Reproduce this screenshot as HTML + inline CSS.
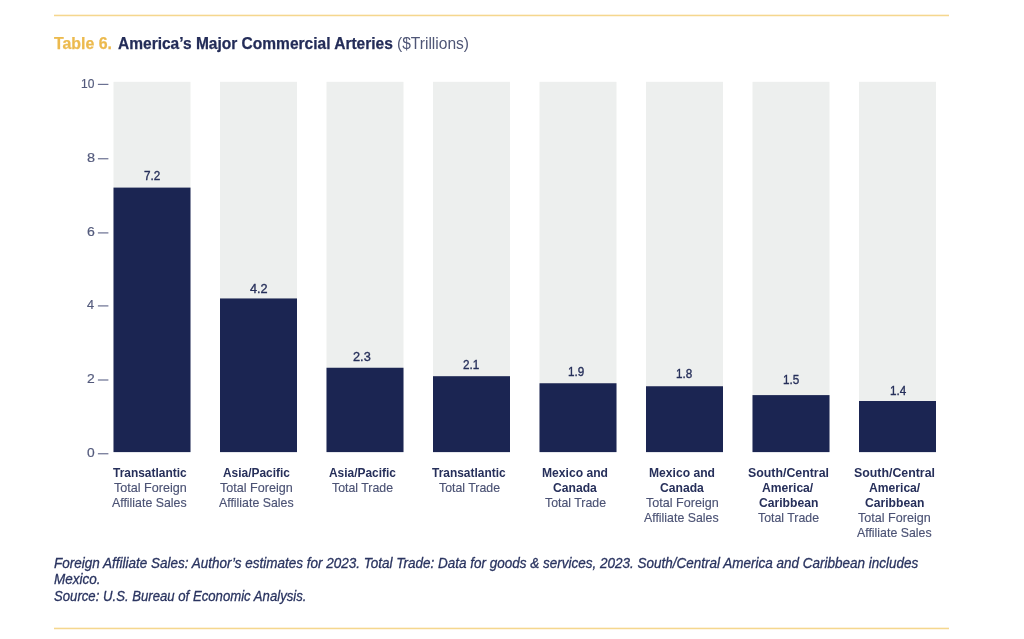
<!DOCTYPE html>
<html lang="en">
<head>
<meta charset="utf-8">
<title>Table 6. America’s Major Commercial Arteries</title>
<style>
html,body{margin:0;padding:0;background:#fff;}
body{width:1024px;height:639px;position:relative;overflow:hidden;font-family:"Liberation Sans", sans-serif;}
.a{position:absolute;white-space:nowrap;line-height:20px;height:20px;transform-origin:0 0;display:block;margin:0;padding:0;}
.rule{position:absolute;left:54px;width:895px;height:1px;background:#F5D78E;box-shadow:0 -1px 0 #FCF2DC,0 1px 0 #FDF5E4;}

.t1{font-size:16px;font-weight:bold;font-style:normal;color:#ECBA4E;-webkit-text-stroke:0.25px #ECBA4E;}
.t2{font-size:16px;font-weight:bold;font-style:normal;color:#232C58;-webkit-text-stroke:0.25px #232C58;}
.t3{font-size:16px;font-weight:normal;font-style:normal;color:#4F5676;}
.y{font-size:13.5px;font-weight:normal;font-style:normal;color:#535A7C;-webkit-text-stroke:0.2px #535A7C;}
.v{font-size:13px;font-weight:normal;font-style:normal;color:#262F5A;-webkit-text-stroke:0.35px #262F5A;}
.xb{font-size:13px;font-weight:bold;font-style:normal;color:#262F5A;}
.xr{font-size:13.5px;font-weight:normal;font-style:normal;color:#4B5274;-webkit-text-stroke:0.15px #4B5274;}
.f{font-size:14px;font-weight:normal;font-style:italic;color:#2A3460;-webkit-text-stroke:0.3px #2A3460;}
</style>
</head>
<body>
<div class="rule" style="top:15px"></div>
<div class="rule" style="top:628px"></div>
<svg class="chart" width="1024" height="639" viewBox="0 0 1024 639" style="position:absolute;left:0;top:0" aria-hidden="true">
<rect x="113.50" y="81.8" width="77" height="370.30" fill="#EDEFEE"/>
<rect x="113.50" y="187.60" width="77" height="264.50" fill="#1B2552"/>
<rect x="220.00" y="81.8" width="77" height="370.30" fill="#EDEFEE"/>
<rect x="220.00" y="298.45" width="77" height="153.65" fill="#1B2552"/>
<rect x="326.50" y="81.8" width="77" height="370.30" fill="#EDEFEE"/>
<rect x="326.50" y="367.75" width="77" height="84.35" fill="#1B2552"/>
<rect x="433.00" y="81.8" width="77" height="370.30" fill="#EDEFEE"/>
<rect x="433.00" y="376.20" width="77" height="75.90" fill="#1B2552"/>
<rect x="539.50" y="81.8" width="77" height="370.30" fill="#EDEFEE"/>
<rect x="539.50" y="383.25" width="77" height="68.85" fill="#1B2552"/>
<rect x="646.00" y="81.8" width="77" height="370.30" fill="#EDEFEE"/>
<rect x="646.00" y="386.25" width="77" height="65.85" fill="#1B2552"/>
<rect x="752.50" y="81.8" width="77" height="370.30" fill="#EDEFEE"/>
<rect x="752.50" y="395.10" width="77" height="57.00" fill="#1B2552"/>
<rect x="859.00" y="81.8" width="77" height="370.30" fill="#EDEFEE"/>
<rect x="859.00" y="401.00" width="77" height="51.10" fill="#1B2552"/>
</svg>
<div class="a t1" style="left:54.40px;top:34.00px;transform:scaleX(0.9923)">Table 6.</div>
<div class="a t2" style="left:117.50px;top:34.00px;transform:scaleX(0.9698)">America’s Major Commercial Arteries</div>
<div class="a t3" style="left:397.03px;top:34.00px;transform:scaleX(0.9725)">($Trillions)</div>
<div class="a v" style="left:144.00px;top:166.00px;transform:scaleX(0.9000)">7.2</div>
<div class="a v" style="left:250.00px;top:279.00px;transform:scaleX(0.9752)">4.2</div>
<div class="a v" style="left:353.00px;top:347.00px;transform:scaleX(0.9808)">2.3</div>
<div class="a v" style="left:462.85px;top:355.00px;transform:scaleX(0.9000)">2.1</div>
<div class="a v" style="left:568.47px;top:362.00px;transform:scaleX(0.9000)">1.9</div>
<div class="a v" style="left:676.10px;top:364.00px;transform:scaleX(0.9000)">1.8</div>
<div class="a v" style="left:782.97px;top:370.00px;transform:scaleX(0.9000)">1.5</div>
<div class="a v" style="left:890.22px;top:381.00px;transform:scaleX(0.9000)">1.4</div>
<div class="a xb" style="left:113.10px;top:463.00px;transform:scaleX(0.9179)">Transatlantic</div>
<div class="a xr" style="left:113.65px;top:478.00px;transform:scaleX(0.9325)">Total Foreign</div>
<div class="a xr" style="left:112.40px;top:493.00px;transform:scaleX(0.9145)">Affiliate Sales</div>
<div class="a xb" style="left:222.85px;top:463.00px;transform:scaleX(0.9168)">Asia/Pacific</div>
<div class="a xr" style="left:220.05px;top:478.00px;transform:scaleX(0.9325)">Total Foreign</div>
<div class="a xr" style="left:218.80px;top:493.00px;transform:scaleX(0.9145)">Affiliate Sales</div>
<div class="a xb" style="left:329.25px;top:463.00px;transform:scaleX(0.9168)">Asia/Pacific</div>
<div class="a xr" style="left:332.20px;top:478.00px;transform:scaleX(0.9140)">Total Trade</div>
<div class="a xb" style="left:432.30px;top:463.00px;transform:scaleX(0.9179)">Transatlantic</div>
<div class="a xr" style="left:438.60px;top:478.00px;transform:scaleX(0.9140)">Total Trade</div>
<div class="a xb" style="left:542.40px;top:463.00px;transform:scaleX(0.9315)">Mexico and</div>
<div class="a xb" style="left:553.15px;top:478.00px;transform:scaleX(0.9323)">Canada</div>
<div class="a xr" style="left:545.00px;top:493.00px;transform:scaleX(0.9140)">Total Trade</div>
<div class="a xb" style="left:648.80px;top:463.00px;transform:scaleX(0.9315)">Mexico and</div>
<div class="a xb" style="left:659.55px;top:478.00px;transform:scaleX(0.9323)">Canada</div>
<div class="a xr" style="left:645.65px;top:493.00px;transform:scaleX(0.9325)">Total Foreign</div>
<div class="a xr" style="left:644.40px;top:508.00px;transform:scaleX(0.9145)">Affiliate Sales</div>
<div class="a xb" style="left:748.00px;top:463.00px;transform:scaleX(0.9502)">South/Central</div>
<div class="a xb" style="left:762.40px;top:478.00px;transform:scaleX(0.9330)">America/</div>
<div class="a xb" style="left:758.50px;top:493.00px;transform:scaleX(0.9335)">Caribbean</div>
<div class="a xr" style="left:757.80px;top:508.00px;transform:scaleX(0.9140)">Total Trade</div>
<div class="a xb" style="left:854.40px;top:463.00px;transform:scaleX(0.9502)">South/Central</div>
<div class="a xb" style="left:868.80px;top:478.00px;transform:scaleX(0.9330)">America/</div>
<div class="a xb" style="left:864.90px;top:493.00px;transform:scaleX(0.9335)">Caribbean</div>
<div class="a xr" style="left:858.45px;top:508.00px;transform:scaleX(0.9325)">Total Foreign</div>
<div class="a xr" style="left:857.20px;top:523.00px;transform:scaleX(0.9145)">Affiliate Sales</div>
<div class="a f" style="left:54.40px;top:553.00px;transform:scaleX(0.9639)">Foreign Affiliate Sales: Author’s estimates for 2023. Total Trade: Data for goods &amp; services, 2023. South/Central America and Caribbean includes</div>
<div class="a f" style="left:54.40px;top:569.00px;transform:scaleX(0.9639)">Mexico.</div>
<div class="a f" style="left:54.40px;top:586.00px;transform:scaleX(0.9395)">Source: U.S. Bureau of Economic Analysis.</div>
<div class="a y" style="left:81.21px;top:74.00px;transform:scaleX(0.8884)">10</div>
<div class="a y" style="left:86.90px;top:148.00px;transform:scaleX(1.0714)">8</div>
<div class="a y" style="left:87.10px;top:222.00px;transform:scaleX(1.0429)">6</div>
<div class="a y" style="left:86.90px;top:295.00px;transform:scaleX(0.9375)">4</div>
<div class="a y" style="left:86.90px;top:369.00px;transform:scaleX(1.0286)">2</div>
<div class="a y" style="left:86.75px;top:443.00px;transform:scaleX(1.0214)">0</div>
<svg width="1024" height="639" viewBox="0 0 1024 639" style="position:absolute;left:0;top:0" aria-hidden="true"><rect x="97.9" y="83.80" width="10.5" height="1.2" fill="#6B7192"/><rect x="97.9" y="158.15" width="10.5" height="1.2" fill="#6B7192"/><rect x="97.9" y="232.30" width="10.5" height="1.2" fill="#6B7192"/><rect x="97.9" y="305.30" width="10.5" height="1.2" fill="#6B7192"/><rect x="97.9" y="379.40" width="10.5" height="1.2" fill="#6B7192"/><rect x="97.9" y="453.15" width="10.5" height="1.2" fill="#6B7192"/></svg>
</body>
</html>
